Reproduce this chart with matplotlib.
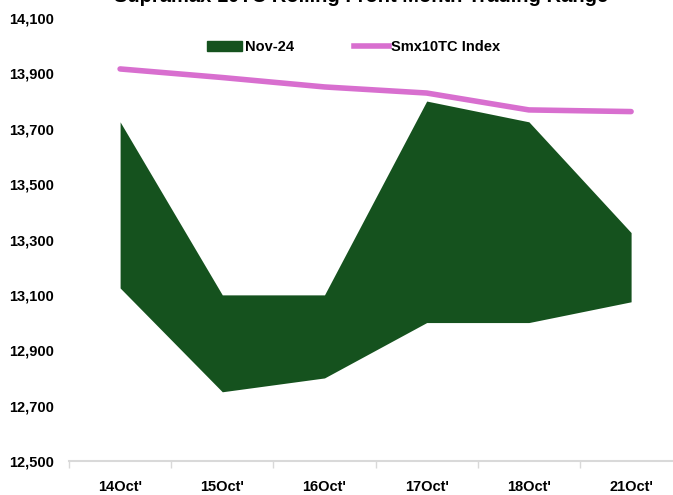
import matplotlib
matplotlib.use("Agg")
import matplotlib.pyplot as plt
from matplotlib.patches import Patch
from matplotlib.lines import Line2D

# data
days = ["14Oct'", "15Oct'", "16Oct'", "17Oct'", "18Oct'", "21Oct'"]
nov24_high = [13725, 13100, 13100, 13800, 13725, 13325]
nov24_low = [13125, 12750, 12800, 13000, 13000, 13075]
smx10tc = [13916, 13885, 13851, 13829, 13768, 13762]
yticks = list(range(12500, 14101, 200))

green = "#15521e"
pink = "#d86fcf"
fam = ["Liberation Sans", "DejaVu Sans"]

fig = plt.figure(figsize=(6.73, 4.95), dpi=100)
ax = fig.add_axes([69 / 673, 34 / 495, 604 / 673, 443 / 495])

x = range(len(days))
ax.fill_between(x, nov24_low, nov24_high, color=green, linewidth=0)
ax.plot(x, smx10tc, color=pink, linewidth=4, solid_capstyle="round")

ax.set_xlim(-0.5, 5.41)
ax.set_ylim(12500, 14100)
ax.set_yticks(yticks)
ax.set_yticklabels([f"{v:,}" for v in yticks], family=fam, fontweight="bold", fontsize=10.5)
ax.tick_params(axis="y", length=0, pad=11)

ax.set_xticks([i - 0.5 for i in range(len(days))], minor=False)
ax.set_xticklabels([])
ax.set_xticks(list(x), minor=True)
ax.set_xticklabels(days, minor=True, family=fam, fontweight="bold", fontsize=10.5)
ax.tick_params(axis="x", which="major", length=5, color="#d9d9d9", width=1)
ax.tick_params(axis="x", which="minor", length=0, pad=14)

for s in ["top", "right", "left"]:
    ax.spines[s].set_visible(False)
ax.spines["bottom"].set_color("#d9d9d9")
ax.spines["bottom"].set_linewidth(1.5)

handles = [Patch(color=green, label="Nov-24"),
           Line2D([0], [0], color=pink, linewidth=4, label="Smx10TC Index")]
fig.legend(handles=handles, loc="center", bbox_to_anchor=(354 / 673, 1 - 47 / 495),
           ncol=2, frameon=False, columnspacing=4.05, handlelength=2.4, handletextpad=0.2,
           prop={"family": fam, "weight": "bold", "size": 10.5})

fig.text(361 / 673, 1 - 2.5 / 495, "Supramax 10TC Rolling Front Month Trading Range",
         ha="center", va="baseline", family=fam, fontweight="bold", fontsize=14.5)

fig.savefig("out.png", dpi=100)
